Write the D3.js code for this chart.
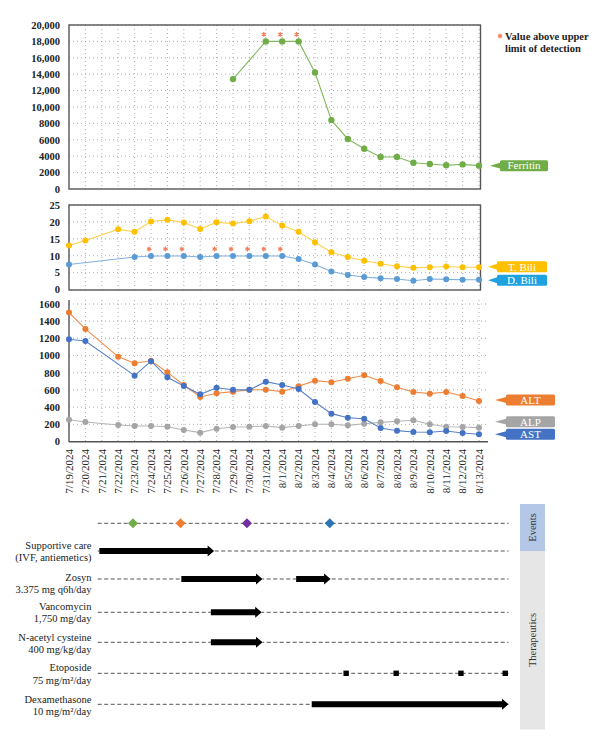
<!DOCTYPE html>
<html>
<head>
<meta charset="utf-8">
<script src="https://cdn.jsdelivr.net/npm/d3@7"></script>
<style>
  body { margin: 0; background: #fff; }
  text { font-family: "Liberation Serif", "DejaVu Serif", serif; }
</style>
</head>
<body>
<script>
// ---- data ----
var dates = ["7/19/2024","7/20/2024","7/21/2024","7/22/2024","7/23/2024","7/24/2024","7/25/2024",
  "7/26/2024","7/27/2024","7/28/2024","7/29/2024","7/30/2024","7/31/2024","8/1/2024","8/2/2024",
  "8/3/2024","8/4/2024","8/5/2024","8/6/2024","8/7/2024","8/8/2024","8/9/2024","8/10/2024",
  "8/11/2024","8/12/2024","8/13/2024"];

var ferritin = [null,null,null,null,null,null,null,null,null,null,13400,null,18000,18000,18000,
  14200,8400,6100,4900,3900,3900,3200,3050,2900,3000,2850];
var ferritinCapped = ["7/31/2024","8/1/2024","8/2/2024"];

var tBili = [13.0,14.5,null,17.8,17.1,20.1,20.6,19.8,17.9,19.9,19.5,20.2,21.6,18.9,17.1,
  14.0,11.0,9.6,8.5,7.6,6.9,6.4,6.6,6.8,6.6,6.6];
var dBili = [7.4,null,null,null,9.6,9.9,9.9,9.9,9.6,9.9,9.9,9.9,9.9,9.9,9.0,
  7.4,5.3,4.3,3.7,3.3,3.1,2.6,3.1,3.0,2.9,2.9];
var dBiliCapped = ["7/24/2024","7/25/2024","7/26/2024","7/28/2024","7/29/2024","7/30/2024","7/31/2024","8/1/2024"];

var alt = [1500,1310,null,985,910,940,805,658,518,561,580,603,603,580,643,
  708,689,731,771,704,631,576,557,576,530,471];
var ast = [1190,1170,null,null,766,935,747,646,549,626,603,601,696,658,611,
  460,324,277,265,157,126,111,107,122,99,84];
var alp = [254,227,null,192,180,180,172,134,103,149,169,172,180,161,180,
  200,200,188,207,223,235,247,200,172,169,161];

var ferritinTicks = [0,2000,4000,6000,8000,10000,12000,14000,16000,18000,20000];
var biliTicks = [0,5,10,15,20,25];
var enzymeTicks = [0,200,400,600,800,1000,1200,1400,1600];

// timeline, in days after 7/19/2024
var timelineSpan = [1.75, 26.8];
var eventDays = [3.9, 6.8, 10.85, 15.9];
var eventColors = ["#70ad47", "#ed7d31", "#7030a0", "#2e75b6"];
var therapies = [
  { name: ["Supportive care", "(IVF, antiemetics)"], spans: [[1.85, 8.85]], doses: [] },
  { name: ["Zosyn", "3.375 mg q6h/day"], spans: [[6.85, 11.8], [13.85, 15.95]], doses: [] },
  { name: ["Vancomycin", "1,750 mg/day"], spans: [[8.65, 11.75]], doses: [] },
  { name: ["N-acetyl cysteine", "400 mg/kg/day"], spans: [[8.65, 11.8]], doses: [] },
  { name: ["Etoposide", "75 mg/m²/day"], spans: [], doses: [16.9, 19.95, 23.9, 26.6] },
  { name: ["Dexamethasone", "10 mg/m²/day"], spans: [[14.8, 26.8]], doses: [] }
];

// ---- drawing ----
var W = 600, H = 751;
var svg = d3.select("body").append("svg")
    .attr("width", W)
    .attr("height", H);

var x = d3.scalePoint().domain(dates).range([69, 479]);
var left = 69;

function fmtTick(d) { return d >= 10000 ? d3.format(",")(d) : String(d); }

function panel(y, ticks, top, bottom, gridRight, framed) {
  var g = svg.append("g");
  // dotted grid
  g.selectAll(".hg").data(ticks.slice(1)).enter().append("line")
    .attr("x1", left).attr("x2", gridRight)
    .attr("y1", function (d) { return y(d); }).attr("y2", function (d) { return y(d); })
    .attr("stroke", "#9a9a9a").attr("stroke-width", 0.8).attr("stroke-dasharray", "1,3");
  g.selectAll(".vg").data(dates.slice(1)).enter().append("line")
    .attr("x1", function (d) { return x(d); }).attr("x2", function (d) { return x(d); })
    .attr("y1", top).attr("y2", bottom)
    .attr("stroke", "#9a9a9a").attr("stroke-width", 0.8).attr("stroke-dasharray", "1,3");

  var ax = g.append("g")
    .attr("transform", "translate(" + left + ",0)")
    .call(d3.axisLeft(y).tickValues(ticks).tickSize(0).tickPadding(9).tickFormat(fmtTick));
  ax.select(".domain").remove();
  ax.selectAll("text")
    .attr("font-size", 10.5).attr("font-weight", "bold").attr("fill", "#222")
    .style("font-family", "'Liberation Serif', serif");

  if (framed) {
    g.append("rect")
      .attr("x", left).attr("y", top)
      .attr("width", x(dates[dates.length - 1]) + 1.5 - left).attr("height", bottom - top)
      .attr("fill", "none").attr("stroke", "#555").attr("stroke-width", 1.4);
  }
  return g;
}

function series(g, y, values, lineColor, dotColor, r) {
  var pts = dates.map(function (d, i) { return { d: d, v: values[i] }; })
    .filter(function (p) { return p.v != null; });
  var line = d3.line()
    .x(function (p) { return x(p.d); })
    .y(function (p) { return y(p.v); });
  g.append("path").datum(pts)
    .attr("d", line).attr("fill", "none")
    .attr("stroke", lineColor).attr("stroke-width", 1.1);
  g.selectAll(null).data(pts).enter().append("circle")
    .attr("cx", function (p) { return x(p.d); })
    .attr("cy", function (p) { return y(p.v); })
    .attr("r", r).attr("fill", dotColor);
}

var star = d3.symbol().type(d3.symbolAsterisk).size(16);
function capped(g, y, list, values, lift) {
  g.selectAll(null).data(list).enter().append("path")
    .attr("d", star)
    .attr("transform", function (d) {
      var v = values[dates.indexOf(d)];
      return "translate(" + (x(d) - 2) + "," + (y(v) - lift) + ")";
    })
    .attr("fill", "none").attr("stroke", "#f47c5a").attr("stroke-width", 1.2);
}

function flag(text, color, tipX, y, boxX, boxW) {
  var h = 11;
  var g = svg.append("g");
  g.append("path")
    .attr("d", "M" + tipX + "," + y + "L" + (boxX + 1) + "," + (y - 3.2) + "L" + (boxX + 1) + "," + (y + 3.2) + "Z")
    .attr("fill", color);
  g.append("rect")
    .attr("x", boxX).attr("y", y - h / 2).attr("width", boxW).attr("height", h)
    .attr("rx", 1.5).attr("fill", color);
  g.append("text")
    .attr("x", boxX + boxW / 2).attr("y", y).attr("dy", "0.35em")
    .attr("text-anchor", "middle").attr("font-size", 11).attr("fill", "#fff")
    .text(text);
}

// top: ferritin
var yF = d3.scaleLinear().domain([0, 20000]).range([189, 25]);
var gF = panel(yF, ferritinTicks, 25, 189, 479, true);
series(gF, yF, ferritin, "#82b85f", "#70ad47", 3.2);
capped(gF, yF, ferritinCapped, ferritin, 7);
flag("Ferritin", "#70ad47", 490, yF(ferritin[25]), 500, 48);

// note
svg.append("path").attr("d", star).attr("transform", "translate(500,36)")
  .attr("fill", "none").attr("stroke", "#f47c5a").attr("stroke-width", 1.2);
svg.append("text").attr("x", 505).attr("y", 39.5)
  .attr("font-size", 10.5).attr("font-weight", "bold").attr("fill", "#222")
  .text("Value above upper");
svg.append("text").attr("x", 505).attr("y", 51.5)
  .attr("font-size", 10.5).attr("font-weight", "bold").attr("fill", "#222")
  .text("limit of detection");

// middle: bilirubin
var yB = d3.scaleLinear().domain([0, 25]).range([289.5, 205]);
var gB = panel(yB, biliTicks, 205, 290, 479, true);
series(gB, yB, tBili, "#ffcf4a", "#ffc000", 3);
series(gB, yB, dBili, "#7fb0e0", "#5b9bd5", 3);
capped(gB, yB, dBiliCapped, dBili, 7);
flag("T. Bili", "#ffc000", 488, yB(tBili[25]) - 0.5, 497, 50);
flag("D. Bili", "#1fa3e0", 488, yB(dBili[25]) + 0.5, 497, 50);

// bottom: enzymes
var yE = d3.scaleLinear().domain([0, 1600]).range([441.5, 304]);
var gE = panel(yE, enzymeTicks, 300, 441.5, 486, false);
gE.append("line").attr("x1", left).attr("x2", left).attr("y1", 300).attr("y2", 442)
  .attr("stroke", "#555").attr("stroke-width", 1.4);
gE.append("line").attr("x1", left).attr("x2", 488).attr("y1", 441.8).attr("y2", 441.8)
  .attr("stroke", "#555").attr("stroke-width", 1.4);
series(gE, yE, alp, "#b5b5b5", "#a5a5a5", 3);
series(gE, yE, alt, "#f08c4a", "#ed7d31", 3);
series(gE, yE, ast, "#5a80c8", "#4472c4", 3);
flag("ALT", "#ed7d31", 495, yE(alt[25]) - 1, 506, 49);
flag("ALP", "#a5a5a5", 495, yE(alp[25]) - 6, 506, 49);
flag("AST", "#4472c4", 495, yE(ast[25]), 506, 49);

// date labels
svg.append("g").selectAll("text").data(dates).enter().append("text")
  .attr("transform", function (d) { return "translate(" + x(d) + ",449) rotate(-90)"; })
  .attr("text-anchor", "end").attr("dy", "0.35em")
  .attr("font-size", 11).attr("fill", "#222")
  .text(function (d) { return d; });

// ---- timeline ----
var tx = d3.scaleLinear().domain([0, 25]).range([69, 479]);
var eventsY = 523.3;
var rowY = [551, 579, 612.3, 642.3, 673.3, 704.3];
var labelY = [[545, 557], [577, 589], [606, 618], [637, 649], [667.5, 680], [699, 711]];

function dashed(y) {
  svg.append("line").attr("x1", tx(timelineSpan[0])).attr("x2", tx(timelineSpan[1]))
    .attr("y1", y).attr("y2", y)
    .attr("stroke", "#555").attr("stroke-width", 1).attr("stroke-dasharray", "4,2.5");
}

dashed(eventsY);
svg.selectAll(".ev").data(eventDays).enter().append("path")
  .attr("d", "M0,-5L5,0L0,5L-5,0Z")
  .attr("transform", function (d) { return "translate(" + tx(d) + "," + eventsY + ")"; })
  .attr("fill", function (d, i) { return eventColors[i]; });

function arrow(x0, x1, y) {
  var s = 3, hh = 5.5, hl = 6.5;
  return "M" + x0 + "," + (y - s) + "L" + (x1 - hl) + "," + (y - s) + "L" + (x1 - hl) + "," + (y - hh) +
    "L" + x1 + "," + y + "L" + (x1 - hl) + "," + (y + hh) + "L" + (x1 - hl) + "," + (y + s) +
    "L" + x0 + "," + (y + s) + "Z";
}

therapies.forEach(function (t, i) {
  var y = rowY[i];
  dashed(y);
  t.spans.forEach(function (s) {
    svg.append("rect").attr("x", tx(s[0])).attr("y", y - 4).attr("width", tx(s[1]) - tx(s[0])).attr("height", 8)
      .attr("fill", "#fff");
    svg.append("path").attr("d", arrow(tx(s[0]), tx(s[1]), y)).attr("fill", "#000");
  });
  svg.selectAll(null).data(t.doses).enter().append("rect")
    .attr("x", function (d) { return tx(d) - 2.7; }).attr("y", y - 2.7)
    .attr("width", 5.4).attr("height", 5.4).attr("fill", "#000");
  t.name.forEach(function (line, j) {
    svg.append("text").attr("x", 91.5).attr("y", labelY[i][j]).attr("dy", "0.35em")
      .attr("text-anchor", "end").attr("font-size", 10.5).attr("fill", "#222")
      .text(line);
  });
});

// side bands
svg.append("rect").attr("x", 520).attr("y", 504).attr("width", 25).attr("height", 47).attr("fill", "#b4c7e7");
svg.append("rect").attr("x", 520).attr("y", 551).attr("width", 25).attr("height", 178.5).attr("fill", "#e7e6e6");
svg.append("text").attr("transform", "translate(532.5,527.5) rotate(-90)")
  .attr("text-anchor", "middle").attr("dy", "0.35em").attr("font-size", 10.5).attr("fill", "#333")
  .text("Events");
svg.append("text").attr("transform", "translate(532.5,640) rotate(-90)")
  .attr("text-anchor", "middle").attr("dy", "0.35em").attr("font-size", 10.5).attr("fill", "#333")
  .text("Therapeutics");
</script>
</body>
</html>
